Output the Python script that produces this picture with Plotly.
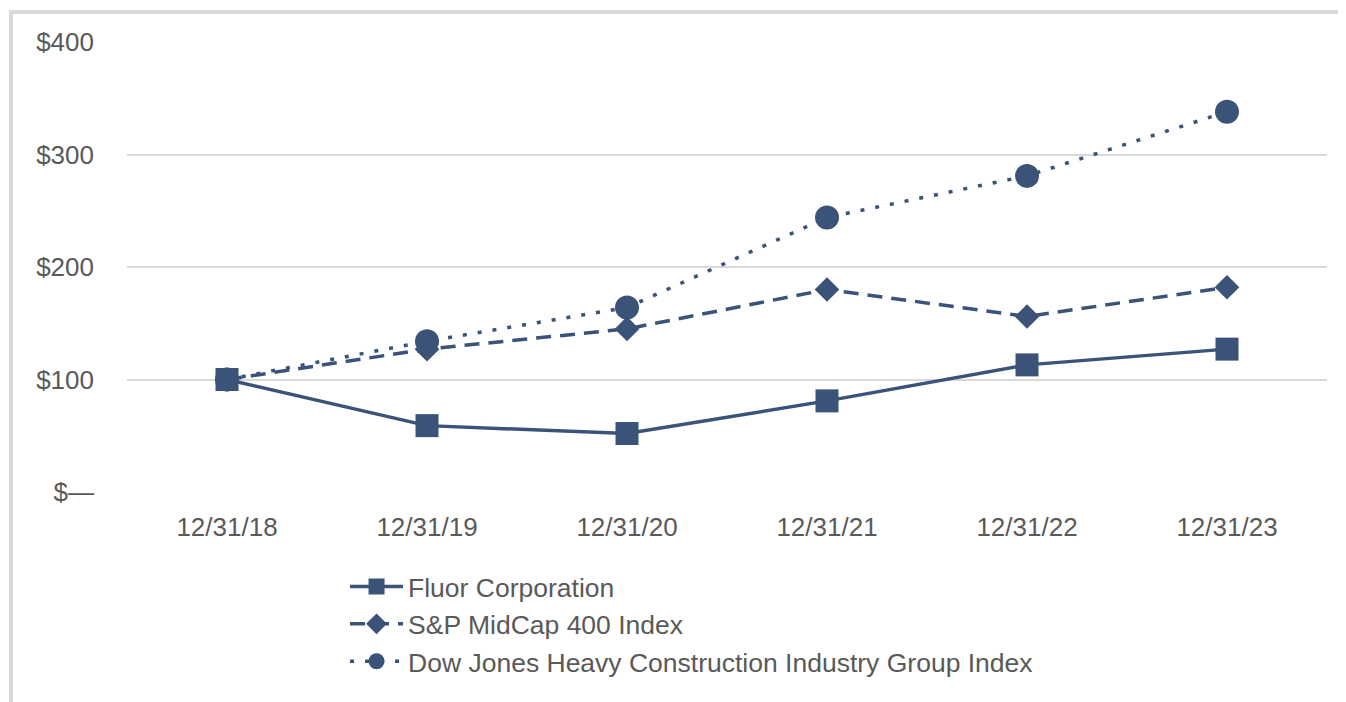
import plotly.graph_objects as go

categories = ["12/31/18", "12/31/19", "12/31/20", "12/31/21", "12/31/22", "12/31/23"]
fluor = [100, 59, 52, 81, 113, 127]
sp400 = [100, 127, 145, 180, 156, 182]
djhc = [100, 134, 164, 244, 281, 338]

y_tickvals = [0, 100, 200, 300, 400]
y_ticktext = ["$—", "$100", "$200", "$300", "$400"]

color = "#3B5378"
text_color = "#595959"
font_family = "Liberation Sans, Arial, sans-serif"

fig = go.Figure()
fig.add_trace(go.Scatter(
    x=categories, y=fluor, name="Fluor Corporation", mode="lines+markers",
    line=dict(color=color, width=3.5),
    marker=dict(symbol="square", size=23, color=color),
))
fig.add_trace(go.Scatter(
    x=categories, y=sp400, name="S&P MidCap 400 Index", mode="lines+markers",
    line=dict(color=color, width=3.5, dash="15px,9px"),
    marker=dict(symbol="diamond", size=19, color=color),
))
fig.add_trace(go.Scatter(
    x=categories, y=djhc, name="Dow Jones Heavy Construction Industry Group Index",
    mode="lines+markers",
    line=dict(color=color, width=3.5, dash="4px,11px"),
    marker=dict(symbol="circle", size=24, color=color),
))

fig.update_layout(
    width=1338, height=694,
    margin=dict(l=119, r=19, t=34, b=210),
    paper_bgcolor="white", plot_bgcolor="white",
    font=dict(family=font_family, size=26, color=text_color),
    showlegend=True,
    legend=dict(
        x=0.1817, y=-0.157, xanchor="left", yanchor="top",
        font=dict(size=26.5, color=text_color),
        bgcolor="rgba(0,0,0,0)", tracegroupgap=0, itemwidth=53,
    ),
    xaxis=dict(
        type="category", range=[-0.5, 5.5],
        showgrid=False, showline=False, zeroline=False,
        ticks="", ticklabelstandoff=17,
        tickfont=dict(size=26, color=text_color),
    ),
    yaxis=dict(
        range=[0, 400], tickvals=y_tickvals, ticktext=y_ticktext,
        showgrid=True, gridcolor="#d9d9d9", gridwidth=1.5,
        zeroline=False, showline=False, ticks="",
        ticklabelstandoff=32,
        tickfont=dict(size=26, color=text_color),
    ),
    shapes=[dict(
        type="rect", xref="paper", yref="paper",
        x0=-0.0967, x1=1.2, y0=-0.6, y1=1.0667,
        line=dict(color="#d9d9d9", width=4), layer="below",
    )],
)

fig.write_html("out.html")
